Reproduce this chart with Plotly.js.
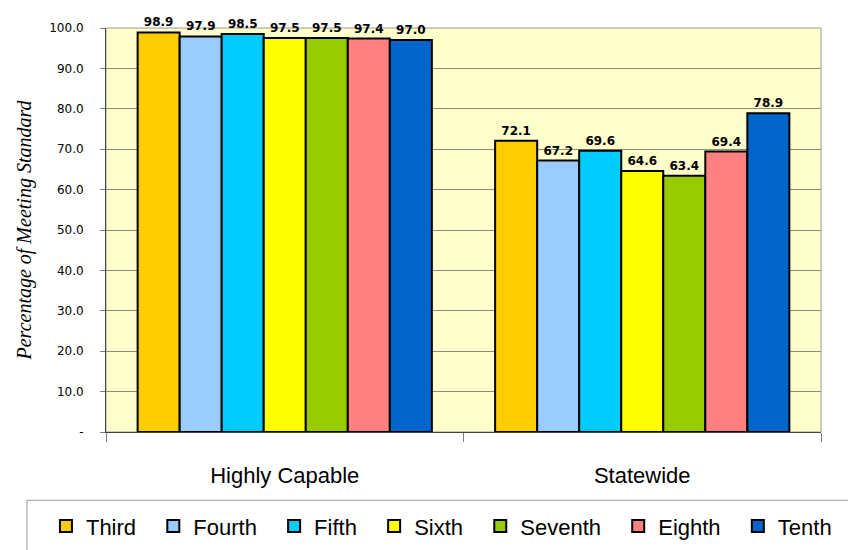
<!DOCTYPE html>
<html><head><meta charset="utf-8">
<script src="https://cdn.plot.ly/plotly-3.0.1.min.js"></script>
<style>body{margin:0;background:#fff}</style>
</head><body><div id="chart" style="width:848px;height:550px"></div>
<script>
const categories = ["Highly Capable", "Statewide"];
const seriesNames = ["Third", "Fourth", "Fifth", "Sixth", "Seventh", "Eighth", "Tenth"];
const third = [98.9, 72.1];
const fourth = [97.9, 67.2];
const fifth = [98.5, 69.6];
const sixth = [97.5, 64.6];
const seventh = [97.5, 63.4];
const eighth = [97.4, 69.4];
const tenth = [97.0, 78.9];
const seriesValues = [third, fourth, fifth, sixth, seventh, eighth, tenth];
const colors = ["#FFCC00", "#99CCFF", "#00CCFF", "#FFFF00", "#99CC00", "#FF8080", "#0066CC"];
const yTickVals = [0, 10, 20, 30, 40, 50, 60, 70, 80, 90, 100];
const yTickText = ["-", "10.0", "20.0", "30.0", "40.0", "50.0", "60.0", "70.0", "80.0", "90.0", "100.0"];

const pad = "\u00a0\u00a0";
const traces = seriesNames.map((name, i) => ({
  type: "bar",
  name: name + pad,
  x: categories,
  y: seriesValues[i],
  marker: {color: colors[i], line: {color: "#000", width: 2}},
  texttemplate: "%{y:.1f}",
  textposition: "outside",
  cliponaxis: false,
  textfont: {family: "DejaVu Sans", size: 12, color: "#000", weight: "bold"},
  hoverinfo: "skip"
}));

const layout = {
  width: 848, height: 550,
  margin: {l: 106, r: 27, t: 28, b: 118, autoexpand: false},
  paper_bgcolor: "#fff",
  plot_bgcolor: "#FFFFCC",
  barmode: "group",
  bargap: 0.177,
  bargroupgap: 0,
  showlegend: true,
  legend: {
    orientation: "h", x: -0.084, xanchor: "left", y: -0.233, yanchor: "middle",
    font: {family: "Liberation Sans", size: 22, color: "#000"},
    itemwidth: 30, bgcolor: "rgba(0,0,0,0)"
  },
  xaxis: {
    type: "category", automargin: false,
    tickson: "boundaries",
    ticks: "outside", ticklen: 9, tickcolor: "#808080",
    showline: true, linecolor: "#444", linewidth: 1,
    ticklabelstandoff: 24,
    tickfont: {family: "Liberation Sans", size: 22, color: "#000"},
    showgrid: false
  },
  yaxis: {
    range: [0, 100], automargin: false,
    tickvals: yTickVals, ticktext: yTickText,
    ticks: "outside", ticklen: 5, tickcolor: "#808080",
    showline: true, linecolor: "#444", linewidth: 1,
    ticklabelstandoff: 14,
    gridcolor: "#8c8c7a", gridwidth: 1,
    zeroline: false,
    tickfont: {family: "DejaVu Sans", size: 12, color: "#000"},
    title: {text: "Percentage of Meeting Standard", standoff: 12,
      font: {family: "Liberation Serif", size: 20, color: "#000", style: "italic"}}
  },
  shapes: [
    {type: "rect", xref: "paper", yref: "paper", x0: 0, x1: 1, y0: 0, y1: 1,
     line: {color: "#999", width: 1}, fillcolor: "rgba(0,0,0,0)", layer: "below"},
    {type: "rect", xref: "paper", yref: "paper",
     x0: -0.1106, x1: 1.1, y0: -0.169, y1: -0.40,
     line: {color: "#999", width: 1}, fillcolor: "rgba(0,0,0,0)", layer: "below"}
  ]
};
Plotly.newPlot("chart", traces, layout, {displayModeBar: false, staticPlot: true});
</script></body></html>
